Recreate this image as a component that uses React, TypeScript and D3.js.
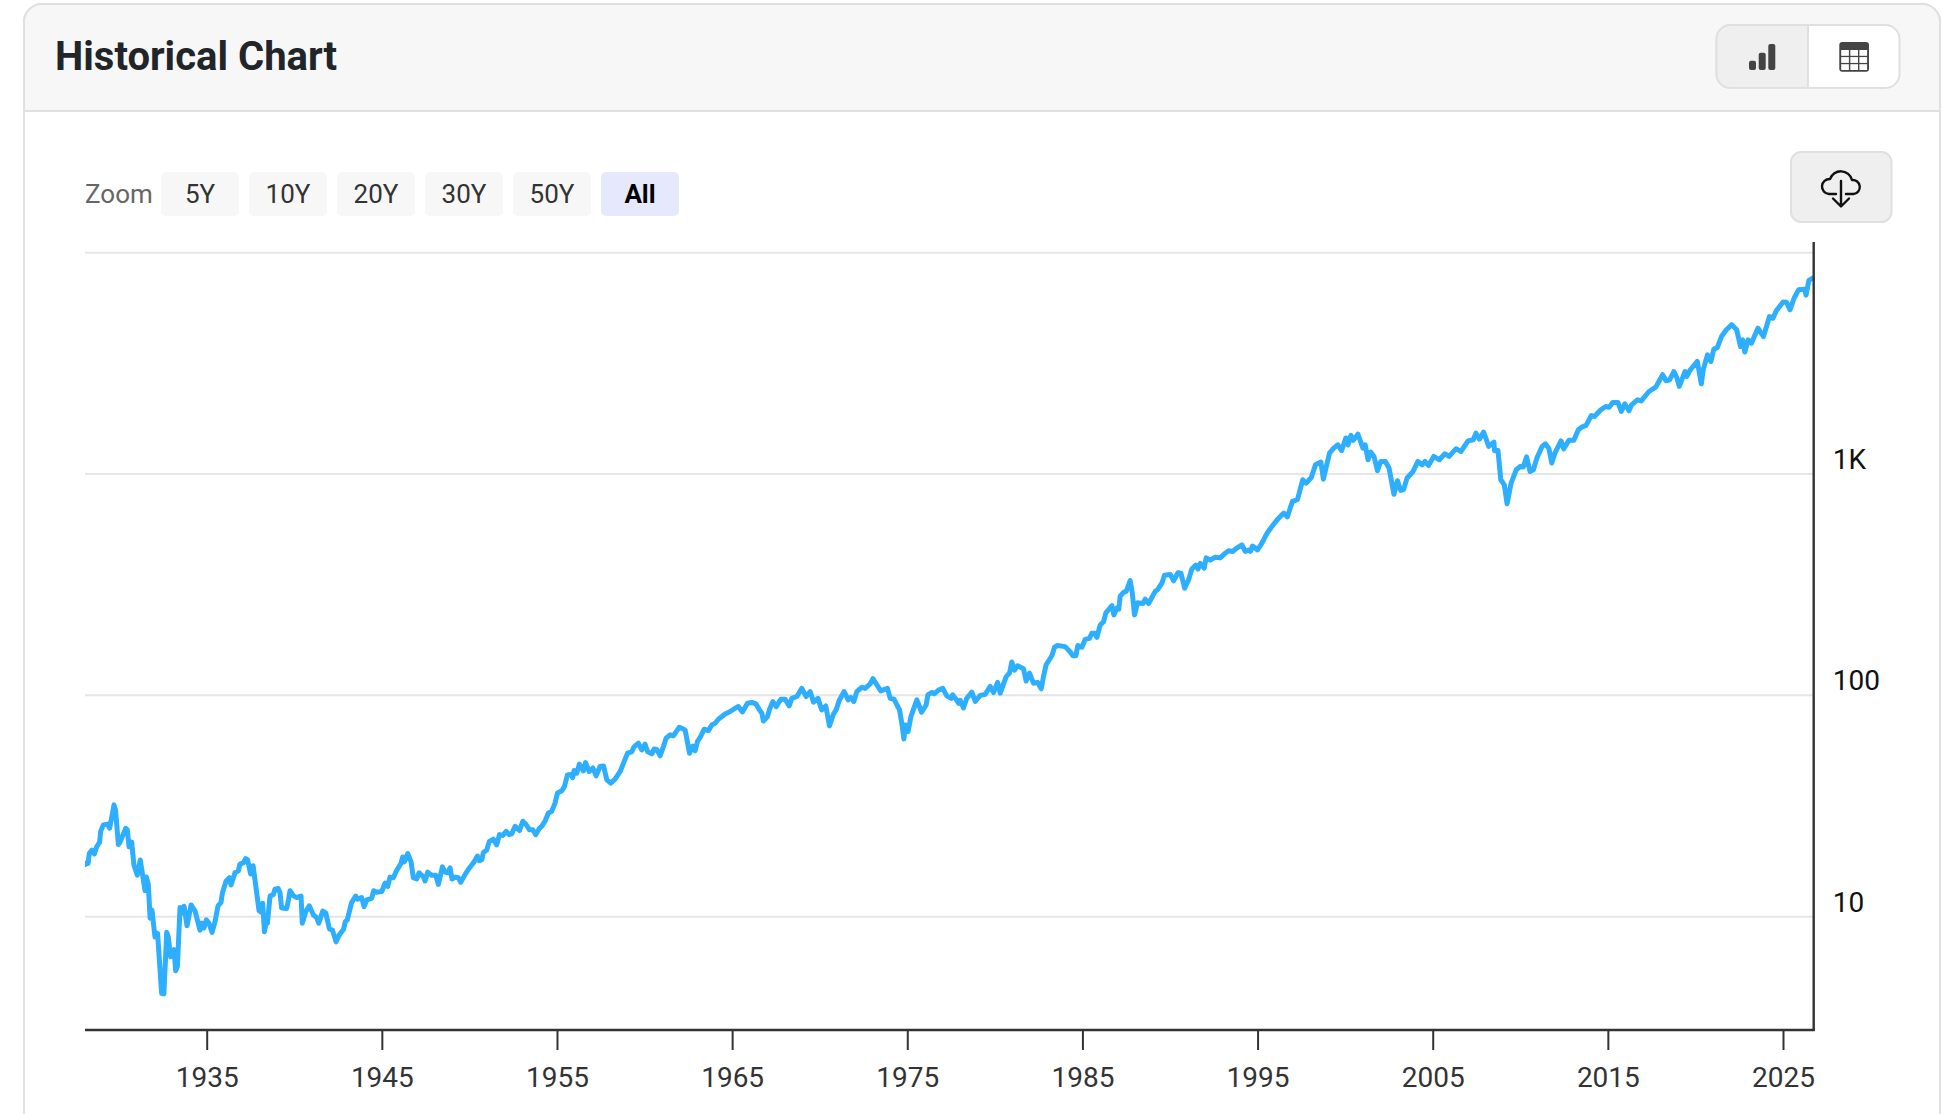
import { useEffect, useRef } from 'react'
import * as d3 from 'd3'

// [year, index level]
const prewar = [[1928.0,17.2],[1928.09,17.5],[1928.17,17.4],[1928.24,19.3],[1928.39,20.0],[1928.53,19.2],[1928.66,20.7],[1928.83,21.7],[1928.89,24.3],[1929.04,26.0],[1929.29,26.2],[1929.40,25.1],[1929.55,28.9],[1929.65,32.0],[1929.74,30.3],[1929.90,21.2],[1929.99,21.7],[1930.32,25.1],[1930.41,24.7],[1930.51,20.7],[1930.66,21.7],[1930.79,17.1],[1930.98,15.4],[1931.15,18.05],[1931.42,13.1],[1931.50,15.1],[1931.61,14.0],[1931.71,9.85],[1931.82,10.7],[1931.99,8.1],[1932.14,8.4],[1932.37,4.5],[1932.50,4.48],[1932.66,8.5],[1932.75,8.1],[1932.88,6.6],[1933.08,7.1],[1933.17,5.7],[1933.27,5.95],[1933.42,11.0],[1933.55,10.4],[1933.65,11.15],[1933.82,9.1],[1934.05,11.3],[1934.28,10.6],[1934.41,9.67],[1934.56,8.7],[1934.66,9.35],[1934.79,8.9],[1934.92,9.67],[1935.07,9.35],[1935.25,8.5],[1935.42,9.5],[1935.59,11.2],[1935.76,11.6],[1935.84,12.8],[1936.05,14.5],[1936.24,15.0],[1936.33,13.9],[1936.56,15.8],[1936.75,16.1],[1936.84,17.3],[1937.03,17.5],[1937.17,18.3],[1937.28,18.05],[1937.45,15.6],[1937.59,17.0],[1937.68,15.1],[1937.93,10.65],[1938.04,10.5],[1938.14,11.5],[1938.24,8.55],[1938.33,9.35],[1938.41,9.35],[1938.56,12.4],[1938.75,12.6],[1938.84,13.3],[1939.03,13.4],[1939.13,12.8],[1939.22,10.95],[1939.51,10.9],[1939.61,11.9],[1939.70,13.1],[1939.89,12.45],[1940.08,12.2],[1940.33,12.4],[1940.40,9.35],[1940.61,10.6],[1940.80,11.2],[1941.03,10.2],[1941.22,9.9],[1941.34,9.35],[1941.57,10.6],[1941.74,10.4],[1941.95,8.8],[1942.12,8.7],[1942.33,7.7],[1942.52,8.3],[1942.75,8.75],[1942.86,9.5],[1942.97,9.67],[1943.22,11.6],[1943.45,12.4],[1943.56,12.0],[1943.79,12.2],[1943.93,11.1],[1944.08,11.9],[1944.36,12.1],[1944.48,13.1],[1944.65,12.9],[1944.94,13.0],[1945.13,14.2],[1945.28,13.7],[1945.41,15.1],[1945.60,15.0],[1945.79,16.2],[1946.04,17.4],[1946.13,18.6],[1946.23,17.7],[1946.42,19.3],[1946.61,17.7],[1946.74,15.0],[1946.93,14.8],[1947.07,15.8],[1947.32,15.1],[1947.41,14.5],[1947.56,15.9],[1947.79,15.4],[1948.02,15.4],[1948.17,14.0],[1948.40,16.8],[1948.55,15.9],[1948.69,15.8],[1948.84,16.6],[1948.95,14.8],[1949.13,15.1],[1949.31,15.0]]

const postwar = [[1949.45,14.3],[1949.69,15.5],[1949.94,16.6],[1950.17,17.5],[1950.40,18.8],[1950.51,17.9],[1950.65,18.1],[1950.74,19.5],[1950.93,20.0],[1951.08,21.9],[1951.31,22.4],[1951.50,21.1],[1951.66,23.5],[1951.85,23.3],[1952.04,24.3],[1952.21,23.5],[1952.36,23.7],[1952.55,25.6],[1952.80,24.5],[1952.99,27.0],[1953.18,26.1],[1953.37,24.7],[1953.56,24.7],[1953.73,23.5],[1953.94,25.1],[1954.07,25.6],[1954.26,27.0],[1954.45,29.4],[1954.64,29.9],[1954.83,32.6],[1954.97,36.2],[1955.22,37.1],[1955.37,38.8],[1955.54,43.7],[1955.73,43.9],[1955.84,42.5],[1955.92,45.8],[1956.07,44.5],[1956.22,48.9],[1956.45,45.6],[1956.57,49.7],[1956.78,45.3],[1956.99,47],[1957.18,43.3],[1957.40,47.7],[1957.60,48],[1957.79,41.5],[1958.01,40.1],[1958.26,41.8],[1958.55,45.3],[1958.74,49.4],[1958.97,54.8],[1959.21,55.6],[1959.35,58.7],[1959.59,60.8],[1959.78,56.7],[1959.97,60.2],[1960.11,55.8],[1960.36,54.4],[1960.49,57.2],[1960.64,57],[1960.83,53.3],[1961.02,58.7],[1961.17,64],[1961.40,66.3],[1961.59,65.7],[1961.75,68.6],[1961.93,71.8],[1962.26,69.8],[1962.51,54.8],[1962.68,59],[1962.83,56.2],[1962.96,61.8],[1963.15,65.2],[1963.34,70.3],[1963.59,69.3],[1963.78,73.5],[1963.97,74.8],[1964.16,78],[1964.54,82.4],[1964.83,84.5],[1965.11,87.5],[1965.30,89],[1965.53,84.2],[1965.82,92.1],[1966.07,92.9],[1966.30,91.6],[1966.50,86],[1966.64,83],[1966.73,76.6],[1966.96,80.2],[1967.08,86.6],[1967.27,93.8],[1967.46,89],[1967.72,96],[1967.97,96],[1968.20,89.6],[1968.35,96.9],[1968.64,98.8],[1968.92,107.5],[1969.17,98.8],[1969.40,104],[1969.59,93.2],[1969.84,96.9],[1970.06,86],[1970.29,89.6],[1970.50,72.8],[1970.73,82.4],[1970.88,86],[1971.07,95.4],[1971.34,104],[1971.57,95.4],[1971.72,97.9],[1971.89,93.8],[1972.06,104],[1972.35,108.8],[1972.54,107.5],[1972.82,112.6],[1972.98,118.9],[1973.20,111.9],[1973.43,104.7],[1973.81,107.5],[1973.97,96.9],[1974.19,96],[1974.50,86],[1974.63,74.8],[1974.75,63.6],[1974.84,73.5],[1974.99,68.6],[1975.15,80.2],[1975.49,95.4],[1975.76,83.9],[1976.02,90.5],[1976.12,100.5],[1976.35,103.1],[1976.48,101.7],[1976.73,105.6],[1976.97,107.5],[1977.20,99.5],[1977.45,96.9],[1977.53,100.5],[1977.73,96],[1977.87,92.1]]

const bullRun = [[1977.96,95],[1978.15,87.7],[1978.34,97],[1978.63,103.4],[1978.82,94],[1979.11,100],[1979.39,101],[1979.68,109.7],[1979.87,103],[1980.10,114.5],[1980.25,102.3],[1980.59,121.5],[1980.78,126],[1980.91,141.5],[1981.07,130],[1981.24,136],[1981.58,132],[1981.73,116],[1981.92,126],[1982.15,113.5],[1982.38,114.5],[1982.59,107],[1982.72,121.5],[1982.87,137.5],[1983.20,151],[1983.35,165],[1983.52,168],[1983.96,166],[1984.25,157],[1984.40,151],[1984.57,151],[1984.68,168],[1984.91,165],[1985.10,179],[1985.35,181],[1985.48,191],[1985.64,191],[1985.77,183],[1985.96,208],[1986.15,215],[1986.28,236],[1986.63,254],[1986.74,231],[1986.91,248],[1987.02,245],[1987.10,281],[1987.29,292],[1987.44,295],[1987.67,330],[1987.79,290],[1987.92,231],[1988.09,262],[1988.40,260],[1988.53,272],[1988.72,260],[1989.10,295],[1989.23,300],[1989.48,321],[1989.63,349],[1989.96,352],[1990.15,329],[1990.40,358],[1990.57,356],[1990.78,305],[1991.00,332],[1991.19,372],[1991.42,388],[1991.54,372],[1991.67,395],[1991.90,376],[1992.01,418],[1992.24,408],[1992.53,421],[1992.81,418],[1993.10,439],[1993.29,450],[1993.52,447],[1993.76,463],[1994.05,479],[1994.24,447],[1994.43,454],[1994.53,447],[1994.66,473],[1994.94,454],[1995.19,487],[1995.48,540],[1995.76,579],[1996.05,620]]

const modern = [[1996.24,643],[1996.44,666],[1996.64,640],[1996.93,752],[1997.22,766],[1997.52,942],[1997.72,910],[1998.01,965],[1998.25,1101],[1998.56,1132],[1998.70,948],[1999.05,1243],[1999.29,1309],[1999.53,1355],[1999.74,1275],[1999.98,1455],[2000.11,1355],[2000.27,1495],[2000.41,1420],[2000.67,1515],[2000.96,1309],[2001.09,1355],[2001.25,1160],[2001.41,1255],[2001.59,1201],[2001.79,1035],[2001.98,1140],[2002.24,1140],[2002.45,1064],[2002.73,810],[2002.93,933],[2003.12,843],[2003.28,850],[2003.48,960],[2003.82,1027],[2004.10,1140],[2004.34,1101],[2004.50,1140],[2004.70,1093],[2005.00,1201],[2005.32,1160],[2005.64,1235],[2005.88,1201],[2006.27,1300],[2006.56,1265],[2006.96,1412],[2007.26,1428],[2007.41,1530],[2007.61,1438],[2007.85,1548],[2008.14,1333],[2008.44,1394],[2008.47,1275],[2008.67,1278],[2008.83,942],[2009.03,893],[2009.19,733],[2009.42,910],[2009.71,1045],[2009.95,1083],[2010.11,1075],[2010.30,1195],[2010.50,1027],[2010.69,1045],[2010.89,1180],[2011.19,1333],[2011.38,1370],[2011.58,1300],[2011.74,1121],[2011.92,1243],[2012.27,1412],[2012.42,1300],[2012.72,1420],[2013.00,1420],[2013.26,1585],[2013.45,1630],[2013.70,1660],[2014.00,1838],[2014.18,1820],[2014.54,1950],[2014.82,2018],[2015.02,2005],[2015.22,2105],[2015.52,2105],[2015.71,1917],[2015.91,2077],[2016.15,1930],[2016.30,2055],[2016.64,2165],[2016.85,2140],[2017.29,2360],[2017.68,2470],[2018.07,2810],[2018.27,2640],[2018.47,2665],[2018.71,2905],[2018.87,2740],[2019.02,2490],[2019.35,2905],[2019.45,2760],[2019.65,2958],[2020.05,3225],[2020.28,2555],[2020.39,2958],[2020.63,3455],[2020.83,3225],[2020.99,3665],[2021.19,3725],[2021.43,4180],[2021.71,4483],[2022.01,4730],[2022.30,4483],[2022.52,3765],[2022.64,4040],[2022.76,3560],[2022.95,4040],[2023.14,3900],[2023.51,4560],[2023.83,4180],[2024.17,5147],[2024.37,5060],[2024.56,5470],[2024.95,5990],[2025.14,5970],[2025.34,5520],[2025.58,6240],[2025.83,6795],[2026.18,6840],[2026.26,6430],[2026.42,7490],[2026.67,7700]]

const xTicks = [1935, 1945, 1955, 1965, 1975, 1985, 1995, 2005, 2015, 2025]
const yTicks = [10, 100, 1000, 10000]
const yLabels: Record<number, string> = { 10: '10', 100: '100', 1000: '1K', 10000: '' }
const zoomButtons = ['5Y', '10Y', '20Y', '30Y', '50Y', 'All']

const FONT = 'Roboto, sans-serif'
const WIDTH = 1942
const HEIGHT = 1114

export default function App() {
  const ref = useRef<SVGSVGElement | null>(null)

  useEffect(() => {
    if (!ref.current) return
    const svg = d3.select(ref.current)
    svg.selectAll('*').remove()

    const x = d3.scaleLinear().domain([1935, 2025]).range([207.7, 1784])
    const y = d3.scaleLog().domain([10, 10000]).range([916.7, 252.7])
    const left = 85
    const right = 1813.7
    const bottom = 1030
    const top = 242

    // Card + header
    svg.append('path')
      .attr('d', `M24 ${HEIGHT} V22 a18 18 0 0 1 18 -18 H1922 a18 18 0 0 1 18 18 V${HEIGHT}`)
      .attr('fill', '#fff')
      .attr('stroke', '#e0e0e0')
      .attr('stroke-width', 2)
    svg.append('path')
      .attr('d', 'M24 111 V22 a18 18 0 0 1 18 -18 H1922 a18 18 0 0 1 18 18 V111 Z')
      .attr('fill', '#f7f7f7')
      .attr('stroke', '#e0e0e0')
      .attr('stroke-width', 2)
    svg.append('text')
      .attr('x', 55)
      .attr('y', 70)
      .attr('font-family', FONT)
      .attr('font-size', 40)
      .attr('font-weight', 700)
      .attr('fill', '#212529')
      .text('Historical Chart')

    // Chart / table switch
    svg.append('rect').attr('x', 1716.5).attr('y', 25).attr('width', 183).attr('height', 63).attr('rx', 14)
      .attr('fill', '#fff').attr('stroke', '#e0e0e0').attr('stroke-width', 2)
    svg.append('path')
      .attr('d', 'M1808 25 H1730.5 a14 14 0 0 0 -14 14 V74 a14 14 0 0 0 14 14 H1808 Z')
      .attr('fill', '#efefef').attr('stroke', '#e0e0e0').attr('stroke-width', 2)
    ;[[1749, 60.7, 7], [1758.7, 52.7, 7], [1768.3, 44, 7]].forEach(([bx, by, bw]) => {
      svg.append('rect').attr('x', bx).attr('y', by).attr('width', bw).attr('height', 70 - by).attr('rx', 2).attr('fill', '#444')
    })
    svg.append('rect').attr('x', 1839.3).attr('y', 42).attr('width', 29.7).attr('height', 29.7).attr('rx', 3).attr('fill', '#444')
    for (let r = 0; r < 3; r++) {
      for (let c = 0; c < 3; c++) {
        svg.append('rect')
          .attr('x', 1841.2 + c * 9.1)
          .attr('y', 50 + r * 7.1)
          .attr('width', 7.7)
          .attr('height', 5.8)
          .attr('fill', '#fff')
      }
    }

    // Zoom buttons
    svg.append('text').attr('x', 85).attr('y', 202.5).attr('font-family', FONT).attr('font-size', 26).attr('fill', '#666').text('Zoom')
    zoomButtons.forEach((label, i) => {
      const active = label === 'All'
      const bx = 161 + i * 88
      svg.append('rect').attr('x', bx).attr('y', 172).attr('width', 78).attr('height', 44).attr('rx', 5)
        .attr('fill', active ? '#e6e9fb' : '#f7f7f7')
      svg.append('text')
        .attr('x', bx + 39)
        .attr('y', 202.5)
        .attr('text-anchor', 'middle')
        .attr('font-family', FONT)
        .attr('font-size', 26)
        .attr('font-weight', active ? 700 : 400)
        .attr('fill', active ? '#000' : '#333')
        .text(label)
    })

    // Download button
    svg.append('rect').attr('x', 1791).attr('y', 152).attr('width', 100.5).attr('height', 70).attr('rx', 10)
      .attr('fill', '#efefef').attr('stroke', '#e0e0e0').attr('stroke-width', 2)
    svg.append('path')
      .attr('d', 'M1836 194 L1829 194 A7.5 7.5 0 0 1 1830 179 A11.5 11.5 0 0 1 1852 180 A7 7 0 0 1 1853.5 194 L1846 194 M1841 181 V206 M1833 198.5 L1841 206.5 L1849 198.5')
      .attr('fill', 'none').attr('stroke', '#111').attr('stroke-width', 2.4).attr('stroke-linecap', 'round').attr('stroke-linejoin', 'round')

    // Grid
    svg.append('g').selectAll('line').data(yTicks).join('line')
      .attr('x1', left)
      .attr('x2', right)
      .attr('y1', (d) => y(d))
      .attr('y2', (d) => y(d))
      .attr('stroke', '#e6e6e6')
      .attr('stroke-width', 2)

    // Line, clipped to the plot like the original
    svg.append('clipPath').attr('id', 'plot').append('rect')
      .attr('x', left).attr('y', top).attr('width', right - left).attr('height', bottom - top)
    const line = d3.line<number[]>().x((d) => x(d[0])).y((d) => y(d[1]))
    svg.append('path')
      .attr('d', line([...prewar, ...postwar, ...bullRun, ...modern]) as string)
      .attr('clip-path', 'url(#plot)')
      .attr('fill', 'none')
      .attr('stroke', '#2eaeff')
      .attr('stroke-width', 5)
      .attr('stroke-linejoin', 'round')
      .attr('stroke-linecap', 'round')

    // X axis
    const xAxis = svg.append('g')
      .attr('transform', `translate(0,${bottom})`)
      .call(d3.axisBottom(x).tickValues(xTicks).tickSize(20).offset(-0.5).tickFormat(d3.format('d')) as any)
    xAxis.select('.domain').remove()
    xAxis.selectAll('line').attr('stroke', '#333').attr('stroke-width', 2)
    xAxis.selectAll('text')
      .attr('y', 57)
      .attr('dy', 0)
      .attr('font-family', FONT)
      .attr('font-size', 28)
      .attr('fill', '#333')
    svg.append('line').attr('x1', left).attr('x2', right + 1).attr('y1', bottom).attr('y2', bottom).attr('stroke', '#333').attr('stroke-width', 2.4)

    // Y axis
    svg.append('line').attr('x1', right).attr('x2', right).attr('y1', top).attr('y2', bottom + 1).attr('stroke', '#333').attr('stroke-width', 2.4)
    svg.append('g').selectAll('text').data(yTicks.filter((d) => yLabels[d])).join('text')
      .attr('x', right + 19)
      .attr('y', (d) => y(d) - 5)
      .attr('font-family', FONT)
      .attr('font-size', 28)
      .attr('fill', '#111')
      .text((d) => yLabels[d])
  }, [])

  return (
    <svg
      ref={ref}
      width={WIDTH}
      height={HEIGHT}
      viewBox={`0 0 ${WIDTH} ${HEIGHT}`}
      style={{ position: 'absolute', left: 0, top: 0, display: 'block', background: '#fff' }}
    />
  )
}
